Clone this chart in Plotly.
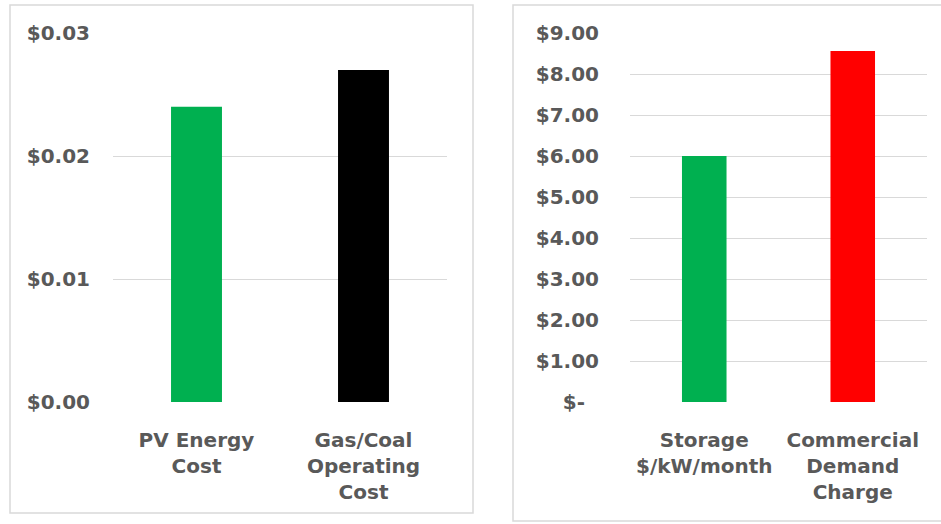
import plotly.graph_objects as go

# Left panel: energy cost per kWh
energy_categories = ["PV Energy<br>Cost", "Gas/Coal<br>Operating<br>Cost"]
energy_values = [0.024, 0.027]
energy_colors = ["#00b050", "#000000"]
energy_ticks = [0.00, 0.01, 0.02, 0.03]
energy_ticktext = ["$0.00", "$0.01", "$0.02", "$0.03"]

# Right panel: storage vs demand charge
charge_categories = ["Storage<br>$/kW/month", "Commercial<br>Demand<br>Charge"]
charge_values = [6.00, 8.56]
charge_colors = ["#00b050", "#ff0000"]
charge_ticks = [0, 1, 2, 3, 4, 5, 6, 7, 8, 9]
charge_ticktext = ["$-\u00a0\u00a0", "$1.00", "$2.00", "$3.00", "$4.00",
                   "$5.00", "$6.00", "$7.00", "$8.00", "$9.00"]

W, H = 941, 524
TEXT = "#595959"
GRID = "#d9d9d9"
TICKFONT = dict(family="DejaVu Sans", size=20, color=TEXT, weight="bold")

fig = go.Figure()
fig.add_trace(go.Bar(x=energy_categories, y=energy_values,
                     marker=dict(color=energy_colors, line=dict(width=0)),
                     width=0.305, xaxis="x", yaxis="y", showlegend=False))
fig.add_trace(go.Bar(x=charge_categories, y=charge_values,
                     marker=dict(color=charge_colors, line=dict(width=0)),
                     width=0.30, xaxis="x2", yaxis="y2", showlegend=False))

ydom = [(H - 402) / H, (H - 33) / H]

axis_common = dict(showline=False, zeroline=False, fixedrange=True,
                   automargin=False, ticks="", tickfont=TICKFONT)
fig.update_layout(
    width=W, height=H,
    margin=dict(l=0, r=0, t=0, b=0, autoexpand=False),
    paper_bgcolor="white", plot_bgcolor="white",
    xaxis=dict(domain=[113 / W, 447 / W], anchor="y", showgrid=False,
               ticklabelstandoff=24, **axis_common),
    yaxis=dict(domain=ydom, anchor="x", range=[0, 0.03],
               tickvals=energy_ticks, ticktext=energy_ticktext,
               showgrid=True, gridcolor=GRID, gridwidth=1.3,
               ticklabelstandoff=22, **axis_common),
    xaxis2=dict(domain=[630 / W, 927 / W], anchor="y2", showgrid=False,
                ticklabelstandoff=24, **axis_common),
    yaxis2=dict(domain=ydom, anchor="x2", range=[0, 9],
                tickvals=charge_ticks, ticktext=charge_ticktext,
                showgrid=True, gridcolor=GRID, gridwidth=1.3,
                ticklabelstandoff=30, **axis_common),
)

# Chart-area frames around each panel
def frame(x0, y0, x1, y1):
    fig.add_shape(type="rect", xref="paper", yref="paper",
                  x0=x0 / W, x1=x1 / W, y0=1 - y1 / H, y1=1 - y0 / H,
                  line=dict(color=GRID, width=1.5), fillcolor="rgba(0,0,0,0)",
                  layer="below")

frame(10, 5, 473, 513)
frame(513, 5, 960, 521)

fig.write_html("out.html")
